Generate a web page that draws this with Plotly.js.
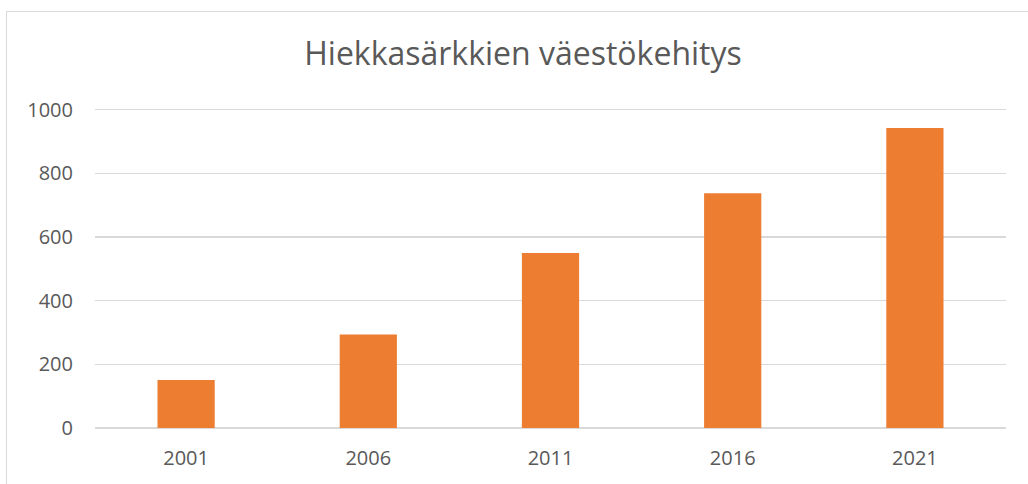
<!DOCTYPE html>
<html>
<head>
<meta charset="utf-8">
<script src="https://cdn.plot.ly/plotly-3.0.1.min.js"></script>
<style>
  html, body { margin: 0; padding: 0; background: #ffffff; overflow: hidden; }
  #frame { position: absolute; left: 6px; top: 11px; width: 1040px; height: 500px;
           border-left: 1px solid #d9d9d9; border-top: 1px solid #d9d9d9; }
  #chart { position: absolute; left: 0; top: 0; width: 1028px; height: 484px; }
</style>
</head>
<body>
<div id="frame"></div>
<div id="chart"></div>
<script>
const years = ['2001', '2006', '2011', '2016', '2021'];
const population = [151, 294, 550, 737, 942];
const yTicks = [0, 200, 400, 600, 800, 1000];
const chartTitle = 'Hiekkasärkkien väestökehitys';

const trace = {
  type: 'bar',
  x: years,
  y: population,
  marker: { color: '#ED7D31', line: { width: 0 } },
  hoverinfo: 'x+y'
};

const layout = {
  width: 1028,
  height: 484,
  paper_bgcolor: 'rgba(0,0,0,0)',
  plot_bgcolor: 'rgba(0,0,0,0)',
  margin: { l: 95, r: 22, t: 108, b: 56, pad: 0 },
  bargap: 0.686,
  showlegend: false,
  font: { family: 'Open Sans, sans-serif', color: '#595959' },
  title: {
    text: chartTitle,
    font: { family: 'Open Sans, sans-serif', size: 32, color: '#595959' },
    x: 523 / 1028, xref: 'container', xanchor: 'center',
    y: 55, yref: 'container', yanchor: 'middle'
  },
  xaxis: {
    type: 'category',
    showgrid: false,
    showline: false,
    zeroline: false,
    ticks: '',
    ticklabelstandoff: 16,
    tickfont: { family: 'Open Sans, sans-serif', size: 20, color: '#595959' },
    fixedrange: true
  },
  yaxis: {
    range: [0, 1005],
    tickvals: yTicks,
    ticktext: yTicks.map(String),
    showgrid: true,
    gridcolor: '#d9d9d9',
    gridwidth: 1.3,
    zeroline: true,
    zerolinecolor: '#d9d9d9',
    zerolinewidth: 1.3,
    showline: false,
    ticks: '',
    ticklabelstandoff: 21,
    tickfont: { family: 'Open Sans, sans-serif', size: 20, color: '#595959' },
    fixedrange: true
  }
};

Plotly.newPlot('chart', [trace], layout, { displayModeBar: false, staticPlot: true });
</script>
</body>
</html>
